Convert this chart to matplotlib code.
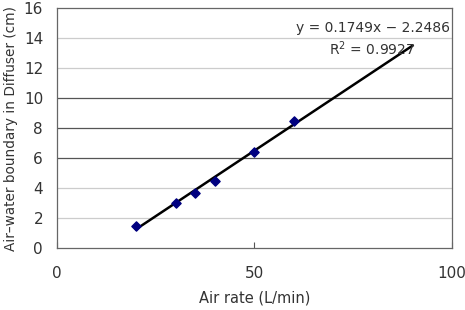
import matplotlib
matplotlib.use('Agg')
import matplotlib.pyplot as plt
import numpy as np

# measured data
air_rate = [20, 30, 35, 40, 50, 60]
boundary = [1.45, 3.0, 3.7, 4.45, 6.4, 8.45]

# trendline from the reference
slope = 0.1749
intercept = -2.2486
trend_x = [20, 90]

y_ticks = [0, 2, 4, 6, 8, 10, 12, 14, 16]
x_ticks = [0, 50, 100]
dark_lines = [6, 8, 10]

plt.rcParams['font.family'] = ['DejaVu Sans']
text_color = '#333333'

fig = plt.figure(figsize=(4.65, 3.1), dpi=100)
ax = fig.add_axes([0.1226, 0.2, 0.8494, 0.774])

# horizontal grid lines, some darker like the original
for yv in y_ticks[1:-1]:
    col = '#555555' if yv in dark_lines else '#cccccc'
    ax.axhline(yv, color=col, linewidth=0.9, zorder=1)

ax.scatter(air_rate, boundary, marker='D', s=22, color='#000080', zorder=3)
tx = np.array(trend_x)
ax.plot(tx, slope * tx + intercept, color='black', linewidth=1.8, zorder=2)

ax.set_xlim(0, 100)
ax.set_ylim(0, 16)
ax.set_yticks(y_ticks)
ax.set_xticks(x_ticks)
ax.tick_params(axis='y', length=0, labelsize=11, labelcolor=text_color, pad=10)
ax.tick_params(axis='x', length=4, direction='in', labelsize=11,
               labelcolor=text_color, pad=13, color='#555555')

for sp in ax.spines.values():
    sp.set_color('#666666')
    sp.set_linewidth(0.9)

ax.set_xlabel('Air rate (L/min)', fontsize=10.5, color=text_color, labelpad=7)
ax.set_ylabel('Air\u2013water boundary in Diffuser (cm)', fontsize=9.8,
              color=text_color, labelpad=4)

ax.text(99.5, 14.65, 'y = 0.1749x \u2212 2.2486', ha='right', va='center',
        fontsize=10, color=text_color)
ax.text(90.5, 13.3, 'R$^2$ = 0.9927', ha='right', va='center',
        fontsize=10, color=text_color)

fig.savefig('out.png', dpi=100)
